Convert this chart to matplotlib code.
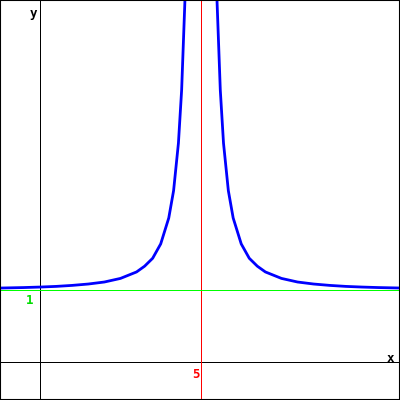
"""
Graph of a curve with a vertical asymptote at x = 5 and a horizontal one at y = 1.
"""

import matplotlib
matplotlib.use("Agg")
import matplotlib.pyplot as plt

# points, left and right of the asymptote
left_x = [-1.25, -0.5, 0.0, 0.5, 1.0, 1.5, 2.0, 2.5, 3.0, 3.25, 3.5,
          3.75, 4.0, 4.15, 4.3, 4.4, 4.5, 4.55]
left_y = [1.026, 1.033, 1.04, 1.049, 1.063, 1.082, 1.11, 1.16, 1.25, 1.33,
          1.44, 1.64, 2.0, 2.38, 3.04, 3.78, 5.0, 5.9]
right_x = [5.45, 5.5, 5.6, 5.7, 5.85, 6.0, 6.25, 6.5, 6.75, 7.0, 7.5, 8.0,
           8.5, 9.0, 9.5, 10.0, 10.5, 11.25]
right_y = [5.9, 5.0, 3.78, 3.04, 2.38, 2.0, 1.64, 1.44, 1.33, 1.25, 1.16,
           1.11, 1.082, 1.063, 1.049, 1.04, 1.033, 1.026]

asym_x = 5
asym_y = 1


def main():
    fig = plt.figure(figsize=(4, 4), dpi=100)
    ax = fig.add_axes([0, 0, 1, 1])
    ax.set_xlim(-1.24, 11.18)
    ax.set_ylim(-0.53, 5.03)
    ax.set_xticks([])
    ax.set_yticks([])
    for sp in ax.spines.values():
        sp.set_color("black")
        sp.set_linewidth(1.5)

    # coordinate axes, 1 px wide
    px = 0.72
    ax.axhline(0, color="black", lw=px, antialiased=False)
    ax.axvline(0, color="black", lw=px, antialiased=False)

    # asymptotes
    ax.axvline(asym_x, color="#ff0000", lw=px, antialiased=False)
    ax.axhline(asym_y, color="#00ff00", lw=px, antialiased=False)

    ax.plot(left_x, left_y, color="#0000ff", lw=2.0)
    ax.plot(right_x, right_y, color="#0000ff", lw=2.0)

    mono = dict(family="DejaVu Sans Mono", fontweight="bold", fontsize=9)
    ax.text(33 / 400, 1 - 13.5 / 400, "y", ha="center", va="center",
            transform=ax.transAxes, color="black", **mono)
    ax.text(390 / 400, 1 - 359 / 400, "x", ha="center", va="center",
            transform=ax.transAxes, color="black", **mono)
    ax.text(30 / 400, 1 - 301 / 400, "1", ha="center", va="center",
            transform=ax.transAxes, color="#00dd00", **mono)
    ax.text(196 / 400, 1 - 374 / 400, "5", ha="center", va="center",
            transform=ax.transAxes, color="#ff0000", **mono)

    fig.savefig("out.png", dpi=100)


if __name__ == "__main__":
    main()
